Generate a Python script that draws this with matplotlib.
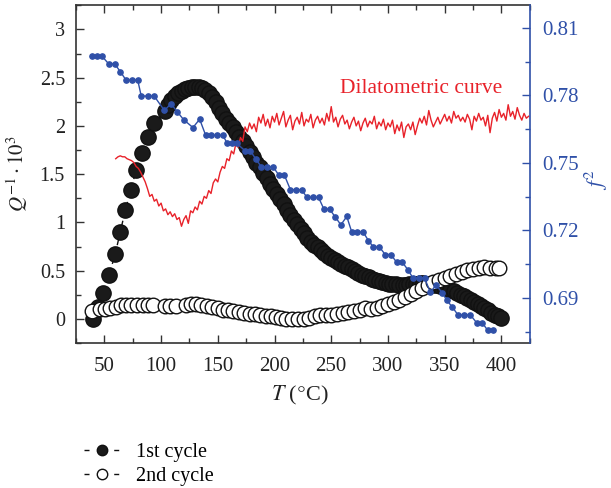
import matplotlib
matplotlib.use("Agg")
import matplotlib.pyplot as plt
import numpy as np
from matplotlib.lines import Line2D

plt.rcParams['font.family'] = ['Liberation Serif', 'DejaVu Serif']
plt.rcParams['mathtext.fontset'] = 'stix'

# 1st cycle (Q^-1 * 10^3)
t1 = [40, 44.5, 49, 54, 59.5, 64, 68.5, 73.5, 78, 83, 88.5, 93.5, 103.5,
      106, 109, 112, 115, 118, 121, 124, 127, 130, 133, 136, 139, 142, 145,
      148, 151, 154, 157, 160, 163, 166, 169, 172, 175, 178, 181, 184, 187,
      190, 193, 196, 199, 202, 205, 208, 211, 214, 217, 220, 223, 226, 229,
      232, 235, 238, 241, 244, 247, 250, 253, 256, 259, 262, 265, 268, 271,
      274, 277, 280, 283, 286, 289, 292, 295, 298, 301, 304, 307, 310, 313,
      316, 319, 322, 325, 328, 331, 334, 337, 340, 343, 346, 349, 352, 355,
      358, 361, 364, 367, 370, 373, 376, 379, 382, 385, 388, 391, 394, 397, 400]
q1 = [0.0, 0.12, 0.27, 0.45, 0.67, 0.90, 1.13, 1.34, 1.545, 1.72, 1.89, 2.03, 2.15,
      2.22, 2.27, 2.31, 2.34, 2.36, 2.38, 2.39, 2.40, 2.405, 2.40, 2.39, 2.37, 2.34, 2.30,
      2.25, 2.19, 2.13, 2.07, 2.03, 1.99, 1.94, 1.89, 1.84, 1.79, 1.73, 1.68, 1.62, 1.57,
      1.51, 1.46, 1.40, 1.35, 1.29, 1.24, 1.19, 1.13, 1.08, 1.03, 0.98, 0.93, 0.89, 0.84,
      0.80, 0.77, 0.74, 0.71, 0.68, 0.655, 0.635, 0.615, 0.59, 0.57, 0.55, 0.535, 0.52, 0.50,
      0.48, 0.46, 0.445, 0.43, 0.415, 0.40, 0.39, 0.38, 0.37, 0.365, 0.36, 0.36, 0.355, 0.355,
      0.355, 0.36, 0.36, 0.365, 0.37, 0.37, 0.365, 0.36, 0.355, 0.35, 0.34, 0.33, 0.32, 0.30,
      0.285, 0.27, 0.25, 0.235, 0.215, 0.195, 0.175, 0.15, 0.13, 0.11, 0.09, 0.065, 0.045, 0.025, 0.005]

# 2nd cycle
t2 = [39.4, 45.9, 50.3, 54.7, 60, 65, 69.4, 73.8, 79.1, 84.1, 88.5, 92.9,
      103.2, 108.2, 112.9, 122.3, 126.7, 131.1, 135.5, 140.5, 145.2, 150.3,
      154.7, 159.1, 163.5, 168.5, 173.2, 178.2, 183.2, 187.6, 192.3, 196.7,
      201.7, 206.1, 210.5, 215.8, 220.8, 225.8, 230.5, 235.4, 240, 245, 250,
      255, 260, 265, 270, 275, 280, 285, 290, 295, 300, 305, 310, 315, 320,
      325, 330, 335, 340, 345, 350, 355, 360, 365, 370, 375, 380, 385, 390, 395, 398]
q2 = [0.08, 0.10, 0.10, 0.11, 0.125, 0.14, 0.145, 0.148, 0.148, 0.148, 0.148, 0.148,
      0.137, 0.137, 0.137, 0.148, 0.155, 0.155, 0.148, 0.137, 0.124, 0.114,
      0.096, 0.09, 0.079, 0.069, 0.062, 0.055, 0.048, 0.041, 0.034, 0.028,
      0.021, 0.01, 0.003, 0.0, 0.0, 0.0, 0.01, 0.034, 0.04, 0.045, 0.045,
      0.055, 0.065, 0.075, 0.085, 0.09, 0.11, 0.10, 0.11, 0.13, 0.15, 0.18, 0.20, 0.23, 0.26,
      0.29, 0.32, 0.35, 0.38, 0.40, 0.42, 0.44, 0.47, 0.49, 0.51, 0.52, 0.53, 0.535, 0.53, 0.53, 0.53]

# f^2 (right axis)
tf = [39.1, 43.5, 47.9, 53.8, 59.1, 64.1, 69.1, 74.4, 79.4, 82.5, 88.3, 93.9,
      102.9, 108.8, 114.1, 119.9, 128.1, 134.0, 139.3, 144.3, 149.3, 154.3,
      158.4, 162.8, 166.5, 174.3, 178.8, 183.5, 188.5, 193.6, 198.9, 203.6,
      208.6, 214.0, 218.9, 223.8, 228.6, 233.8, 238.8, 243.5, 248.5, 253.5,
      258.5, 263.7, 268.1, 272.8, 278.1, 282.8, 287.2, 292.5, 297.6, 302.6,
      307.6, 312.6, 317.5, 322.0, 327.0, 332.3, 337.3, 342.6, 347.9, 352.0,
      356.7, 361.7, 367.0, 372.6, 378.2, 383.1, 388.0, 392.8]
f2 = [0.7974, 0.7974, 0.7974, 0.7940, 0.7940, 0.7905, 0.7868, 0.7868, 0.7868, 0.7797, 0.7797, 0.7797,
      0.7733, 0.7763, 0.7728, 0.7692, 0.7657, 0.7694, 0.7623, 0.7623, 0.7623, 0.7623,
      0.7587, 0.7587, 0.7587, 0.7553, 0.7553, 0.7517, 0.7482, 0.7482, 0.7482, 0.7447,
      0.7447, 0.7381, 0.7381, 0.7381, 0.7347, 0.7347, 0.7347, 0.7295, 0.7295, 0.7260,
      0.7225, 0.7262, 0.7193, 0.7193, 0.7193, 0.7155, 0.7126, 0.7126, 0.7093, 0.7093,
      0.7059, 0.7059, 0.7026, 0.6989, 0.6989, 0.6989, 0.6926, 0.6958, 0.6922, 0.6889,
      0.6860, 0.6825, 0.6825, 0.6825, 0.6790, 0.6790, 0.6756, 0.6756]

# dilatometric curve (in left-axis units)
td = list(range(60, 426, 2))
qd = [1.66, 1.68, 1.69, 1.68, 1.68, 1.66, 1.65, 1.64, 1.62, 1.58,
      1.56, 1.52, 1.47, 1.42, 1.35, 1.27, 1.29, 1.22, 1.24, 1.17,
      1.20, 1.12, 1.14, 1.08, 1.11, 1.06, 1.09, 1.03, 1.05, 0.96,
      1.03, 1.07, 0.99, 1.12, 1.10, 1.16, 1.13, 1.22, 1.19, 1.27,
      1.25, 1.33, 1.30, 1.41, 1.45, 1.42, 1.52, 1.58, 1.56, 1.66,
      1.64, 1.74, 1.71, 1.82, 1.78, 1.88, 1.84, 1.99, 1.94, 2.03,
      1.97, 2.02, 1.94, 2.09, 2.03, 2.12, 2.00, 2.07, 1.98, 2.10,
      2.04, 2.13, 2.01, 2.08, 2.15, 1.99, 2.06, 2.11, 1.96, 2.05,
      2.09, 2.02, 2.14, 2.00, 2.07, 2.04, 2.12, 1.98, 2.06, 2.10,
      2.03, 2.08, 2.01, 2.13, 2.05, 2.20, 2.04, 2.09, 1.99, 2.07,
      2.11, 2.02, 2.06, 1.97, 2.04, 2.09, 2.00, 2.05, 1.95, 2.03,
      2.08, 1.99, 2.05, 2.02, 2.10, 1.97, 2.04, 2.00, 2.07, 1.96,
      2.03, 1.99, 2.06, 1.92, 2.01, 1.95, 2.04, 1.88, 1.99, 2.02,
      1.96, 2.04, 1.91, 2.00, 2.08, 2.03, 2.10, 2.01, 2.16, 2.06,
      1.99, 2.04, 2.09, 2.02, 2.07, 2.12, 2.05, 2.10, 2.03, 2.15,
      2.08, 2.11, 2.05, 2.09, 2.04, 2.12, 2.07, 1.96, 2.10, 2.05,
      2.13, 2.06, 2.09, 2.00, 2.11, 1.93, 2.08, 2.14, 2.05, 2.17,
      2.09, 2.13, 2.06, 2.22, 2.10, 2.15, 2.07, 2.19, 2.11, 2.06,
      2.13, 2.08, 2.10]

blue = '#2f50a8'
dark = '#333333'

fig = plt.figure(figsize=(6.11, 4.88), dpi=100)
ax = fig.add_axes([0.1244, 0.2971, 0.7426, 0.6920])
ax2 = ax.twinx()

ax.plot(td, qd, color='#e8222a', lw=1.0, zorder=5)
ax.plot(t1, q1, ls=(0, (4, 3)), color='#111111', lw=1.0, marker='o', ms=11,
        mfc='#1a1a1a', mec='#111111', zorder=3)
ax.plot(t2, q2, ls=(0, (4, 3)), color='#111111', lw=1.0, marker='o', ms=10.5,
        mfc='white', mec='#111111', mew=1.0, zorder=4)
ax2.plot(tf, f2, color=blue, lw=1.0, marker='o', ms=3.8, mec=blue, mfc=blue)

ax.text(258, 2.39, 'Dilatometric curve', color='#e8222a', fontsize=15.5, va='center')

ax.set_xlim(25, 425)
ax.set_ylim(-0.25, 3.25)
ax2.set_ylim(0.67, 0.82)
ax.set_xticks(np.arange(50, 401, 50))
ax.set_xticks(np.arange(25, 426, 25), minor=True)
ax.set_yticks([0, 0.5, 1, 1.5, 2, 2.5, 3])
ax.set_yticklabels(['0', '0.5', '1', '1.5', '2', '2.5', '3'])
ax.set_yticks(np.arange(-0.25, 3.26, 0.25), minor=True)
ax2.set_yticks([0.69, 0.72, 0.75, 0.78, 0.81])
ax2.set_yticks(np.arange(0.675, 0.821, 0.015), minor=True)

ax.tick_params(which='both', direction='in', top=True, right=False,
               colors=dark, labelcolor='#222222')
ax.tick_params(axis='x', pad=10, labelsize=15)
ax.tick_params(axis='y', pad=8, labelsize=14.5)
ax.tick_params(which='major', length=6, width=1)
ax.tick_params(which='minor', length=3.5, width=1)
ax2.tick_params(which='both', direction='in', colors=blue, labelsize=15, pad=9)
ax2.tick_params(which='major', length=6, width=1)
ax2.tick_params(which='minor', length=3.5, width=1)

for s in ['left', 'bottom', 'top']:
    ax.spines[s].set_color(dark)
    ax.spines[s].set_linewidth(1.2)
ax.spines['right'].set_visible(False)
for s in ['left', 'bottom', 'top']:
    ax2.spines[s].set_visible(False)
ax2.spines['right'].set_color(blue)
ax2.spines['right'].set_linewidth(1.2)

ax.set_xlabel(r'$T$ ($\degree$C)', fontsize=16, color='#222222')
ax.set_ylabel(r'$Q^{-1}\cdot10^3$', fontsize=15, color='#222222')
ax2.set_ylabel(r'$f^2$', fontsize=15.5, color=blue)
ax.xaxis.set_label_coords(0.494, -0.12)
ax.yaxis.set_label_coords(-0.101, 0.503)
ax2.yaxis.set_label_coords(1.118, 0.483)

handles = [Line2D([], [], ls=(0, (3.6, 7.1)), color='#111111', lw=1.0, marker='o', ms=7.5,
                  mfc='#1a1a1a', mec='#111111'),
           Line2D([], [], ls=(0, (3.6, 7.1)), color='#111111', lw=1.0, marker='o', ms=7.5,
                  mfc='white', mec='#111111')]
fig.legend(handles, ['1st cycle', '2nd cycle'], loc='upper left',
           bbox_to_anchor=(74 / 611, 1 - 433 / 488), frameon=False, fontsize=14.5,
           handlelength=1.75, handletextpad=0.85, labelspacing=0.22, borderpad=0)

fig.savefig('out.png', dpi=100)
